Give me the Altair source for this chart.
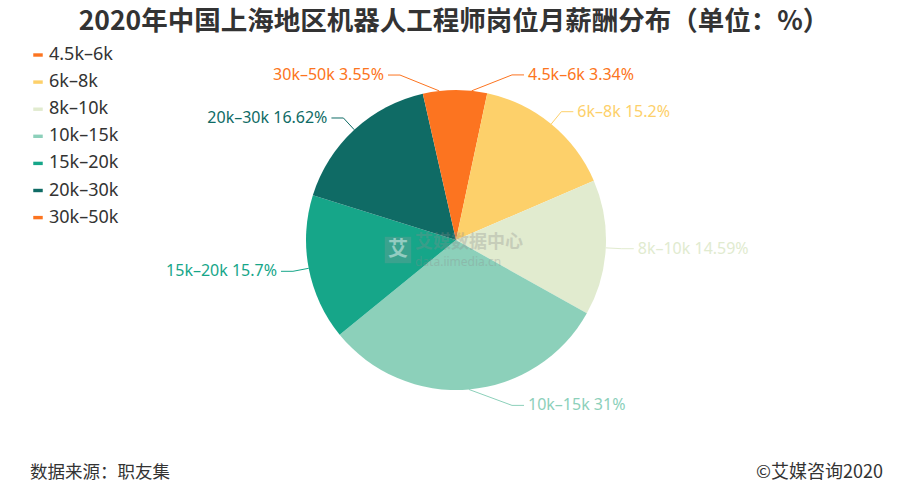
import math
import altair as alt
import pandas as pd

categories = ["4.5k–6k", "6k–8k", "8k–10k", "10k–15k", "15k–20k", "20k–30k", "30k–50k"]
values = [3.34, 15.2, 14.59, 31, 15.7, 16.62, 3.55]
value_labels = ["3.34%", "15.2%", "14.59%", "31%", "15.7%", "16.62%", "3.55%"]
colors = ["#FC7420", "#FDD06A", "#E1EBCF", "#8CD0BA", "#16A689", "#0F6B65", "#FC7420"]

title_text = "2020年中国上海地区机器人工程师岗位月薪酬分布（单位：%）"
source_text = "数据来源：职友集"
copyright_text = "©艾媒咨询2020"

W, H = 912, 500
CX, CY, R = 456, 240, 150
L1, L2, MINX = 16, 12, 56

pie_df = pd.DataFrame({"category": categories, "value": values, "order": list(range(len(categories)))})

total = sum(values)
seg_rows, lab_rows = [], []
cum = 0.0
for i, (c, v) in enumerate(zip(categories, values)):
    mid = (cum + v / 2) / total * 2 * math.pi
    cum += v
    s, co = math.sin(mid), math.cos(mid)
    sign = 1 if s >= 0 else -1
    sx, sy = CX + R * s, CY - R * co
    ex = CX + sign * max(abs((R + L1) * s), MINX)
    ey = CY - (R + L1) * co
    lx = ex + sign * L2
    seg_rows.append(dict(category=c, x=sx, y=sy, x2=ex, y2=ey))
    seg_rows.append(dict(category=c, x=ex, y=ey, x2=lx, y2=ey))
    lab_rows.append(dict(category=c, x=lx + sign * 4, y=ey,
                         label=f"{c} {value_labels[i]}", side="r" if sign > 0 else "l"))
seg_df = pd.DataFrame(seg_rows)
lab_df = pd.DataFrame(lab_rows)

xs = alt.Scale(domain=[0, W], range=[0, W], nice=False, zero=False)
ys = alt.Scale(domain=[0, H], range=[0, H], nice=False, zero=False)
cscale = alt.Scale(domain=categories, range=colors)

legend = alt.Legend(
    title=None, orient="none", legendX=29, legendY=46,
    symbolType="M-1,-0.36H1V0.36H-1Z", symbolSize=90, symbolStrokeWidth=0,
    labelFont="Noto Sans", labelFontSize=18, labelColor="#333333",
    labelOffset=2, rowPadding=9.1,
)

pie = alt.Chart(pie_df).mark_arc(radius=R, stroke=None).encode(
    theta=alt.Theta("value:Q", stack=True),
    order=alt.Order("order:Q"),
    color=alt.Color("category:N", scale=cscale, legend=legend),
    x=alt.value(CX), y=alt.value(CY),
)

lines = alt.Chart(seg_df).mark_rule(strokeWidth=1).encode(
    x=alt.X("x:Q", scale=xs, axis=None),
    y=alt.Y("y:Q", scale=ys, axis=None),
    x2="x2:Q", y2="y2:Q",
    color=alt.Color("category:N", scale=cscale, legend=None),
)

lab_right = alt.Chart(lab_df).transform_filter("datum.side == 'r'").mark_text(
    align="left", baseline="middle", font="Noto Sans", fontSize=16
).encode(
    x=alt.X("x:Q", scale=xs, axis=None), y=alt.Y("y:Q", scale=ys, axis=None),
    text="label:N", color=alt.Color("category:N", scale=cscale, legend=None),
)
lab_left = alt.Chart(lab_df).transform_filter("datum.side == 'l'").mark_text(
    align="right", baseline="middle", font="Noto Sans", fontSize=16
).encode(
    x=alt.X("x:Q", scale=xs, axis=None), y=alt.Y("y:Q", scale=ys, axis=None),
    text="label:N", color=alt.Color("category:N", scale=cscale, legend=None),
)

wm_box = alt.Chart(pd.DataFrame({"a": [0]})).mark_square(
    size=700, color="#9a9a9a", opacity=0.28, filled=True
).encode(x=alt.value(398), y=alt.value(250))
wm_logo = alt.Chart(pd.DataFrame({"t": ["艾"]})).mark_text(
    font="Noto Sans CJK SC", fontSize=20, fontWeight="bold", color="#ffffff", opacity=0.45
).encode(x=alt.value(398), y=alt.value(250), text="t:N")
wm_t1 = alt.Chart(pd.DataFrame({"t": ["艾媒数据中心"]})).mark_text(
    align="left", baseline="middle", font="Noto Sans CJK SC", fontSize=18, fontWeight="bold",
    color="#8a8a8a", opacity=0.3
).encode(x=alt.value(415), y=alt.value(243), text="t:N")
wm_t2 = alt.Chart(pd.DataFrame({"t": ["data.iimedia.cn"]})).mark_text(
    align="left", baseline="middle", font="Noto Sans", fontSize=12, color="#8a8a8a", opacity=0.3
).encode(x=alt.value(415), y=alt.value(262), text="t:N")

title = alt.Chart(pd.DataFrame({"t": [title_text]})).mark_text(
    font="Noto Sans CJK SC", fontSize=26.5, fontWeight="bold", color="#333333", baseline="middle"
).encode(x=alt.value(W / 2 - 2), y=alt.value(22), text="t:N")

source = alt.Chart(pd.DataFrame({"t": [source_text]})).mark_text(
    align="left", baseline="middle", font="Noto Sans CJK SC", fontSize=17.5, color="#333333"
).encode(x=alt.value(30), y=alt.value(473), text="t:N")
copyright_ = alt.Chart(pd.DataFrame({"t": [copyright_text]})).mark_text(
    align="right", baseline="middle", font="Noto Sans CJK SC", fontSize=18, color="#333333"
).encode(x=alt.value(883), y=alt.value(473), text="t:N")

chart = alt.layer(
    pie, lines, lab_right, lab_left, wm_box, wm_logo, wm_t1, wm_t2, title, source, copyright_
).properties(
    width=W, height=H, autosize=alt.AutoSizeParams(type="none"), padding=0,
    background="#ffffff",
).configure_view(stroke=None)

chart.save("out.html", embed_options={"renderer": "svg", "actions": False})
